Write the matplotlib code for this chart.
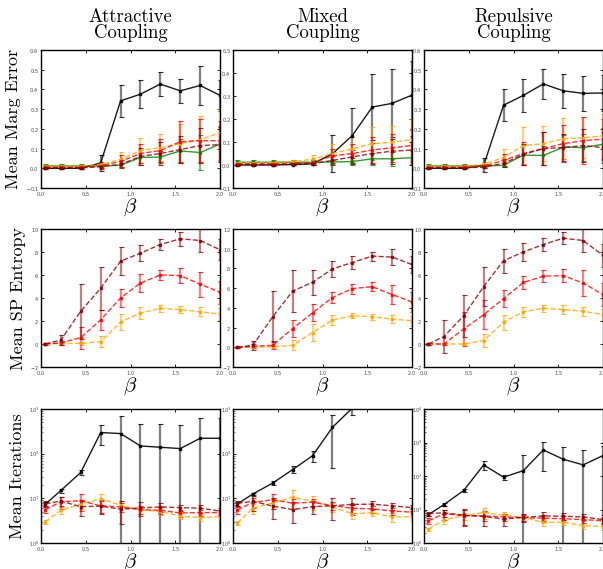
import numpy as np
import matplotlib.pyplot as plt

plt.rcParams['mathtext.fontset'] = 'cm'
plt.rcParams['axes.formatter.use_mathtext'] = True

beta = [0.05, 0.222, 0.444, 0.667, 0.889, 1.111, 1.333, 1.556, 1.778, 2.0]

col_titles = ["Attractive\nCoupling", "Mixed\nCoupling", "Repulsive\nCoupling"]
row_labels = ["Mean Marg Error", "Mean SP Entropy", "Mean Iterations"]

# ---- marginal error ----
marg_att_black = [0.0, 0.0, 0.0, 0.027, 0.342, 0.376, 0.427, 0.393, 0.42, 0.37]
marg_att_black_err = [0.003, 0.003, 0.004, 0.04, 0.083, 0.07, 0.061, 0.06, 0.1, 0.08]
marg_att_green = [0.012, 0.012, 0.012, 0.012, 0.015, 0.055, 0.057, 0.088, 0.08, 0.123]
marg_att_green_err = [0.008, 0.008, 0.008, 0.008, 0.01, 0.04, 0.03, 0.06, 0.09, 0.09]
marg_att_orange = [0.01, 0.01, 0.01, 0.02, 0.045, 0.09, 0.105, 0.125, 0.145, 0.18]
marg_att_orange_err = [0.005, 0.005, 0.005, 0.01, 0.04, 0.065, 0.07, 0.1, 0.12, 0.12]
marg_att_red = [0.005, 0.005, 0.005, 0.012, 0.035, 0.075, 0.09, 0.135, 0.14, 0.14]
marg_att_red_err = [0.005, 0.005, 0.005, 0.01, 0.03, 0.05, 0.06, 0.105, 0.11, 0.1]
marg_att_darkred = [0.002, 0.002, 0.002, 0.008, 0.02, 0.06, 0.075, 0.095, 0.115, 0.12]
marg_att_darkred_err = [0.005, 0.005, 0.005, 0.01, 0.02, 0.045, 0.06, 0.07, 0.09, 0.09]

marg_mix_black = [0.0, 0.0, 0.0, 0.002, 0.005, 0.049, 0.128, 0.252, 0.268, 0.304]
marg_mix_black_err = [0.003, 0.003, 0.003, 0.003, 0.005, 0.08, 0.12, 0.145, 0.148, 0.15]
marg_mix_green = [0.012, 0.012, 0.012, 0.012, 0.012, 0.013, 0.015, 0.027, 0.027, 0.032]
marg_mix_green_err = [0.008, 0.008, 0.008, 0.008, 0.008, 0.01, 0.015, 0.025, 0.03, 0.03]
marg_mix_orange = [0.01, 0.01, 0.01, 0.015, 0.025, 0.05, 0.07, 0.093, 0.098, 0.11]
marg_mix_orange_err = [0.005, 0.005, 0.006, 0.008, 0.02, 0.04, 0.05, 0.072, 0.072, 0.09]
marg_mix_red = [0.005, 0.005, 0.005, 0.006, 0.01, 0.04, 0.05, 0.065, 0.075, 0.085]
marg_mix_red_err = [0.004, 0.004, 0.004, 0.005, 0.01, 0.03, 0.04, 0.055, 0.06, 0.07]
marg_mix_darkred = [0.002, 0.002, 0.002, 0.003, 0.006, 0.02, 0.035, 0.05, 0.06, 0.065]
marg_mix_darkred_err = [0.003, 0.003, 0.003, 0.004, 0.006, 0.02, 0.03, 0.045, 0.055, 0.06]

marg_rep_black = [0.0, 0.0, 0.0, 0.015, 0.32, 0.37, 0.428, 0.393, 0.38, 0.382]
marg_rep_black_err = [0.003, 0.003, 0.003, 0.035, 0.08, 0.083, 0.078, 0.085, 0.09, 0.09]
marg_rep_green = [0.012, 0.012, 0.012, 0.012, 0.015, 0.067, 0.065, 0.107, 0.105, 0.122]
marg_rep_green_err = [0.008, 0.008, 0.008, 0.008, 0.01, 0.05, 0.05, 0.06, 0.07, 0.08]
marg_rep_orange = [0.01, 0.01, 0.01, 0.02, 0.055, 0.115, 0.125, 0.15, 0.155, 0.165]
marg_rep_orange_err = [0.005, 0.005, 0.006, 0.01, 0.045, 0.095, 0.09, 0.105, 0.105, 0.11]
marg_rep_red = [0.005, 0.005, 0.005, 0.01, 0.04, 0.075, 0.1, 0.125, 0.14, 0.148]
marg_rep_red_err = [0.004, 0.004, 0.004, 0.01, 0.03, 0.06, 0.085, 0.095, 0.12, 0.1]
marg_rep_darkred = [0.002, 0.002, 0.002, 0.006, 0.025, 0.07, 0.1, 0.105, 0.115, 0.105]
marg_rep_darkred_err = [0.003, 0.003, 0.003, 0.006, 0.02, 0.055, 0.085, 0.07, 0.085, 0.08]

# ---- SP entropy ----
ent_att_darkred = [0.0, 0.35, 2.85, 4.85, 7.2, 7.9, 8.65, 9.15, 9.0, 8.2]
ent_att_darkred_err = [0.05, 0.4, 2.4, 1.85, 1.2, 0.7, 0.5, 0.6, 1.0, 0.9]
ent_att_red = [0.0, 0.1, 0.55, 2.1, 4.0, 5.3, 6.0, 5.95, 5.2, 4.5]
ent_att_red_err = [0.05, 0.15, 0.95, 0.9, 0.8, 0.75, 0.45, 0.65, 1.1, 1.0]
ent_att_orange = [0.0, 0.05, 0.05, 0.2, 1.9, 2.7, 3.1, 3.0, 2.8, 2.6]
ent_att_orange_err = [0.05, 0.1, 0.1, 0.5, 0.7, 0.5, 0.3, 0.3, 0.4, 0.5]

ent_mix_darkred = [0.0, 0.2, 3.1, 5.7, 6.6, 7.95, 8.6, 9.25, 9.15, 8.4]
ent_mix_darkred_err = [0.05, 0.45, 2.6, 2.1, 1.25, 0.8, 0.7, 0.45, 0.85, 0.9]
ent_mix_red = [0.0, 0.1, 0.2, 1.9, 3.5, 5.05, 5.95, 6.15, 5.35, 4.6]
ent_mix_red_err = [0.05, 0.2, 0.4, 0.85, 0.85, 0.55, 0.5, 0.45, 1.0, 1.0]
ent_mix_orange = [0.0, 0.0, 0.05, 0.2, 1.5, 2.75, 3.2, 3.1, 2.85, 2.7]
ent_mix_orange_err = [0.05, 0.1, 0.1, 0.5, 0.85, 0.5, 0.25, 0.3, 0.4, 0.5]

ent_rep_darkred = [0.0, 0.65, 2.45, 5.0, 7.25, 8.0, 8.65, 9.2, 9.0, 7.7]
ent_rep_darkred_err = [0.05, 1.45, 1.8, 1.7, 1.05, 0.75, 0.55, 0.5, 1.0, 1.0]
ent_rep_red = [0.0, 0.0, 1.3, 2.55, 3.95, 5.35, 5.9, 5.95, 5.3, 4.3]
ent_rep_red_err = [0.05, 0.1, 1.5, 1.25, 0.75, 0.55, 0.5, 0.6, 1.1, 1.0]
ent_rep_orange = [0.0, 0.0, 0.0, 0.3, 1.9, 2.8, 3.1, 3.0, 2.85, 2.55]
ent_rep_orange_err = [0.05, 0.05, 0.1, 0.6, 0.65, 0.45, 0.3, 0.35, 0.4, 0.5]

# ---- iterations ----
it_att_black = [7.4, 15, 38, 297, 282, 149, 139, 130, 221, 221]
it_att_black_err = [0.8, 1.5, 4, 140, 400, 310, 317, 310, 420, 420]
it_att_orange = [3.0, 5.4, 7.4, 9.8, 7.0, 5.5, 5.1, 4.0, 3.7, 3.9]
it_att_orange_err = [0.3, 1.0, 1.5, 2.8, 1.5, 1.0, 0.8, 0.6, 0.6, 0.6]
it_att_red = [5.6, 8.4, 8.8, 6.8, 6.4, 5.6, 5.4, 4.7, 4.8, 4.8]
it_att_red_err = [1.0, 2.5, 3.5, 2.0, 1.5, 1.2, 1.0, 0.8, 0.8, 0.8]
it_att_darkred = [7.5, 8.7, 6.5, 6.7, 5.7, 6.1, 6.4, 6.2, 6.0, 5.2]
it_att_darkred_err = [1.0, 2.0, 2.5, 2.3, 3.0, 2.0, 1.5, 1.0, 1.2, 1.0]

it_mix_black = [7.5, 12.5, 22, 44, 90, 389, 1050, 1500, 2000, 2500]
it_mix_black_err = [0.8, 1.0, 2, 8, 25, 340, 300, 300, 300, 300]
it_mix_orange = [2.8, 6.0, 7.9, 10.7, 8.5, 6.4, 4.5, 4.8, 3.8, 3.9]
it_mix_orange_err = [0.3, 1.5, 2.0, 5.0, 3.0, 1.5, 1.0, 0.8, 0.8, 0.8]
it_mix_red = [5.5, 8.1, 9.3, 7.8, 8.2, 6.9, 6.0, 5.8, 5.2, 4.9]
it_mix_red_err = [1.0, 2.0, 3.5, 2.0, 1.5, 1.5, 1.2, 1.0, 1.0, 0.8]
it_mix_darkred = [7.7, 8.6, 6.7, 5.6, 6.5, 6.8, 7.3, 7.4, 6.8, 6.2]
it_mix_darkred_err = [1.0, 3.5, 3.3, 2.8, 2.0, 3.5, 3.0, 1.5, 1.2, 1.0]

it_rep_black = [7.0, 14, 37, 215, 92, 145, 600, 316, 215, 407]
it_rep_black_err = [0.7, 1.5, 4, 60, 15, 280, 460, 440, 385, 400]
it_rep_orange = [2.6, 4.9, 6.5, 8.2, 6.8, 5.8, 4.1, 4.2, 3.3, 3.1]
it_rep_orange_err = [0.3, 1.2, 1.5, 3.0, 1.5, 1.2, 0.8, 0.8, 0.6, 0.6]
it_rep_red = [4.6, 7.5, 6.5, 6.4, 6.0, 5.7, 5.5, 5.3, 5.0, 4.6]
it_rep_red_err = [0.8, 2.5, 3.0, 2.0, 1.5, 1.2, 1.2, 1.0, 1.0, 0.8]
it_rep_darkred = [7.5, 8.0, 6.8, 6.2, 5.2, 5.8, 6.4, 6.3, 6.0, 5.0]
it_rep_darkred_err = [1.0, 2.0, 3.5, 3.0, 2.0, 1.5, 2.0, 1.5, 1.2, 1.0]

ylims = [[(-0.1, 0.6), (-0.1, 0.5), (-0.1, 0.6)],
         [(-2, 10), (-2, 12), (-2, 10)],
         [(1, 1e3), (1, 1e3), (1, 1e4)]]

# (values, errors, colour, linestyle) for each panel
panels = [
    [[(marg_att_black, marg_att_black_err, 'k', '-'),
      (marg_att_green, marg_att_green_err, 'green', '-'),
      (marg_att_orange, marg_att_orange_err, 'orange', '--'),
      (marg_att_red, marg_att_red_err, 'red', '--'),
      (marg_att_darkred, marg_att_darkred_err, 'darkred', '--')],
     [(marg_mix_black, marg_mix_black_err, 'k', '-'),
      (marg_mix_green, marg_mix_green_err, 'green', '-'),
      (marg_mix_orange, marg_mix_orange_err, 'orange', '--'),
      (marg_mix_red, marg_mix_red_err, 'red', '--'),
      (marg_mix_darkred, marg_mix_darkred_err, 'darkred', '--')],
     [(marg_rep_black, marg_rep_black_err, 'k', '-'),
      (marg_rep_green, marg_rep_green_err, 'green', '-'),
      (marg_rep_orange, marg_rep_orange_err, 'orange', '--'),
      (marg_rep_red, marg_rep_red_err, 'red', '--'),
      (marg_rep_darkred, marg_rep_darkred_err, 'darkred', '--')]],
    [[(ent_att_orange, ent_att_orange_err, 'orange', '--'),
      (ent_att_red, ent_att_red_err, 'red', '--'),
      (ent_att_darkred, ent_att_darkred_err, 'darkred', '--')],
     [(ent_mix_orange, ent_mix_orange_err, 'orange', '--'),
      (ent_mix_red, ent_mix_red_err, 'red', '--'),
      (ent_mix_darkred, ent_mix_darkred_err, 'darkred', '--')],
     [(ent_rep_orange, ent_rep_orange_err, 'orange', '--'),
      (ent_rep_red, ent_rep_red_err, 'red', '--'),
      (ent_rep_darkred, ent_rep_darkred_err, 'darkred', '--')]],
    [[(it_att_black, it_att_black_err, 'k', '-'),
      (it_att_orange, it_att_orange_err, 'orange', '--'),
      (it_att_red, it_att_red_err, 'red', '--'),
      (it_att_darkred, it_att_darkred_err, 'darkred', '--')],
     [(it_mix_black, it_mix_black_err, 'k', '-'),
      (it_mix_orange, it_mix_orange_err, 'orange', '--'),
      (it_mix_red, it_mix_red_err, 'red', '--'),
      (it_mix_darkred, it_mix_darkred_err, 'darkred', '--')],
     [(it_rep_black, it_rep_black_err, 'k', '-'),
      (it_rep_orange, it_rep_orange_err, 'orange', '--'),
      (it_rep_red, it_rep_red_err, 'red', '--'),
      (it_rep_darkred, it_rep_darkred_err, 'darkred', '--')]],
]

W, H = 603, 569
fig = plt.figure(figsize=(W / 100, H / 100), dpi=100)

col_left = [41, 233, 424]
ax_w = 179
row_top = [50, 229, 409]
row_h = [138, 138, 134]

for r in range(3):
    for c in range(3):
        ax = fig.add_axes([col_left[c] / W, 1 - (row_top[r] + row_h[r]) / H,
                           ax_w / W, row_h[r] / H])
        if r == 2:
            ax.set_yscale('log')
        for vals, errs, col, ls in panels[r][c]:
            line, caps, bars = ax.errorbar(
                beta, vals, yerr=errs, color=col, ls=ls, lw=1.0,
                marker='s', ms=2.0, mec=col, capsize=1.8,
                elinewidth=1.6, ecolor=col, capthick=0.8)
            line.set_alpha(0.9 if col == 'k' else 0.8)
            for b in bars:
                b.set_alpha(0.5)
            for cp in caps:
                cp.set_alpha(0.8)
        ax.set_xlim(0, 2.0)
        ax.set_ylim(*ylims[r][c])
        ax.set_xticks([0.0, 0.5, 1.0, 1.5, 2.0])
        ax.tick_params(direction='in', top=True, right=True, labelsize=3.5,
                       length=2.5, width=0.6, pad=1.5, labelcolor='#444444')
        ax.tick_params(which='minor', direction='in', length=1.3, width=0.4)
        for s in ax.spines.values():
            s.set_linewidth(1.0)
        ax.set_xlabel(r'$\beta$', fontsize=15, labelpad=-1)
        if c == 0:
            ax.set_ylabel(row_labels[r], family='cmr10', fontsize=13,
                          labelpad=3)

for c in range(3):
    fig.text((col_left[c] + ax_w / 2) / W, 1 - 25 / H, col_titles[c],
             family='cmr10', fontsize=13.5, ha='center', va='center',
             linespacing=0.85)

fig.savefig('out.png', dpi=100)
